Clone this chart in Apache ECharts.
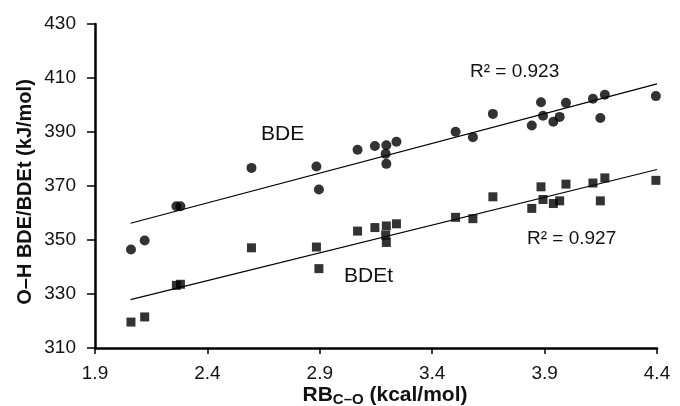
<!DOCTYPE html>
<html><head><meta charset="utf-8">
<script src="https://cdn.jsdelivr.net/npm/echarts@6/dist/echarts.min.js"></script>
<style>html,body{margin:0;padding:0;background:#fff}#c{width:680px;height:406px}</style>
</head><body><div id="c"></div>
<script>
const rbX = [2.060,2.121,2.262,2.280,2.596,2.885,2.896,3.068,3.145,3.196,3.193,3.196,3.241,3.504,3.581,3.670,3.843,3.884,3.893,3.939,3.967,3.995,4.115,4.168,4.148,4.395];
const bde = [346.5,349.8,362.5,362.5,376.7,377.2,368.7,383.4,384.8,385.1,381.9,378.2,386.4,390.1,388.1,396.7,392.4,401.0,396.0,393.8,395.6,400.8,402.3,403.8,395.2,403.3];
const bdet = [319.6,321.5,333.2,333.6,347.1,347.4,339.4,353.3,354.6,355.2,351.8,349.1,356.0,358.4,357.9,366.0,361.7,369.7,365.0,363.5,364.5,370.7,371.1,373.0,364.5,372.1];
const trendX = [2.058, 4.40];
const bdeTrend = [356.2, 407.8];
const bdetTrend = [327.9, 376.1];
const xTicks = [1.9, 2.4, 2.9, 3.4, 3.9, 4.4];
const yTicks = [310, 330, 350, 370, 390, 410, 430];

const font = '"Liberation Sans", Arial, sans-serif';
const chart = echarts.init(document.getElementById('c'));
const pts = (xs, ys) => xs.map((x, i) => [x, ys[i]]);
chart.setOption({
  animation: false,
  backgroundColor: '#fff',
  grid: {left: 95, right: 23, top: 24, bottom: 58, outerBoundsMode: 'none', containLabel: false},
  xAxis: {
    type: 'value', min: xTicks[0], max: xTicks[xTicks.length-1], interval: 0.5,
    axisLine: {lineStyle: {color: '#000', width: 2.5}},
    axisTick: {show: true, length: 6, lineStyle: {color: '#000', width: 1.5}},
    splitLine: {show: false},
    axisLabel: {color: '#111', fontSize: 19, fontFamily: font, margin: 16,
      formatter: v => v.toFixed(1)},
    name: '{s|}{a|RB}{b|C–O}{a| (kcal/mol)}', nameLocation: 'middle', nameGap: 36,
    nameMoveOverlap: false,
    nameTextStyle: {rich: {
      s: {width: 18},
      a: {fontSize: 21, fontWeight: 'bold', fontFamily: font, color: '#111'},
      b: {fontSize: 15, fontWeight: 'bold', fontFamily: font, color: '#111', padding: [8,0,0,0]}
    }}
  },
  yAxis: {
    type: 'value', min: yTicks[0], max: yTicks[yTicks.length-1], interval: 20,
    axisLine: {show: true, lineStyle: {color: '#000', width: 2.5}},
    axisTick: {show: true, length: 8, lineStyle: {color: '#000', width: 1.5}},
    splitLine: {show: false},
    axisLabel: {color: '#111', fontSize: 19, fontFamily: font, margin: 19},
    name: 'O–H BDE/BDEt (kJ/mol)', nameLocation: 'middle', nameGap: 60,
    nameMoveOverlap: false,
    nameTextStyle: {fontSize: 20, fontWeight: 'bold', fontFamily: font, color: '#111', padding: [0,0,0,-12]}
  },
  series: [
    {type: 'line', data: pts(trendX, bdeTrend), symbol: 'none', lineStyle: {color: '#000', width: 1.2}, silent: true},
    {type: 'line', data: pts(trendX, bdetTrend), symbol: 'none', lineStyle: {color: '#000', width: 1.2}, silent: true},
    {type: 'scatter', data: pts(rbX, bde), symbol: 'circle', symbolSize: 10, itemStyle: {color: '#000'}},
    {type: 'scatter', data: pts(rbX, bdet), symbol: 'rect', symbolSize: 9, itemStyle: {color: '#000'}}
  ],
  graphic: [
    {type: 'text', left: 261, top: 124, style: {text: 'BDE', fontSize: 21, fontFamily: font, fill: '#111'}},
    {type: 'text', left: 470, top: 62, style: {text: 'R² = 0.923', fontSize: 19, fontFamily: font, fill: '#111'}},
    {type: 'text', left: 527, top: 229, style: {text: 'R² = 0.927', fontSize: 19, fontFamily: font, fill: '#111'}},
    {type: 'text', left: 344, top: 266, style: {text: 'BDEt', fontSize: 21, fontFamily: font, fill: '#111'}}
  ]
});
</script></body></html>
